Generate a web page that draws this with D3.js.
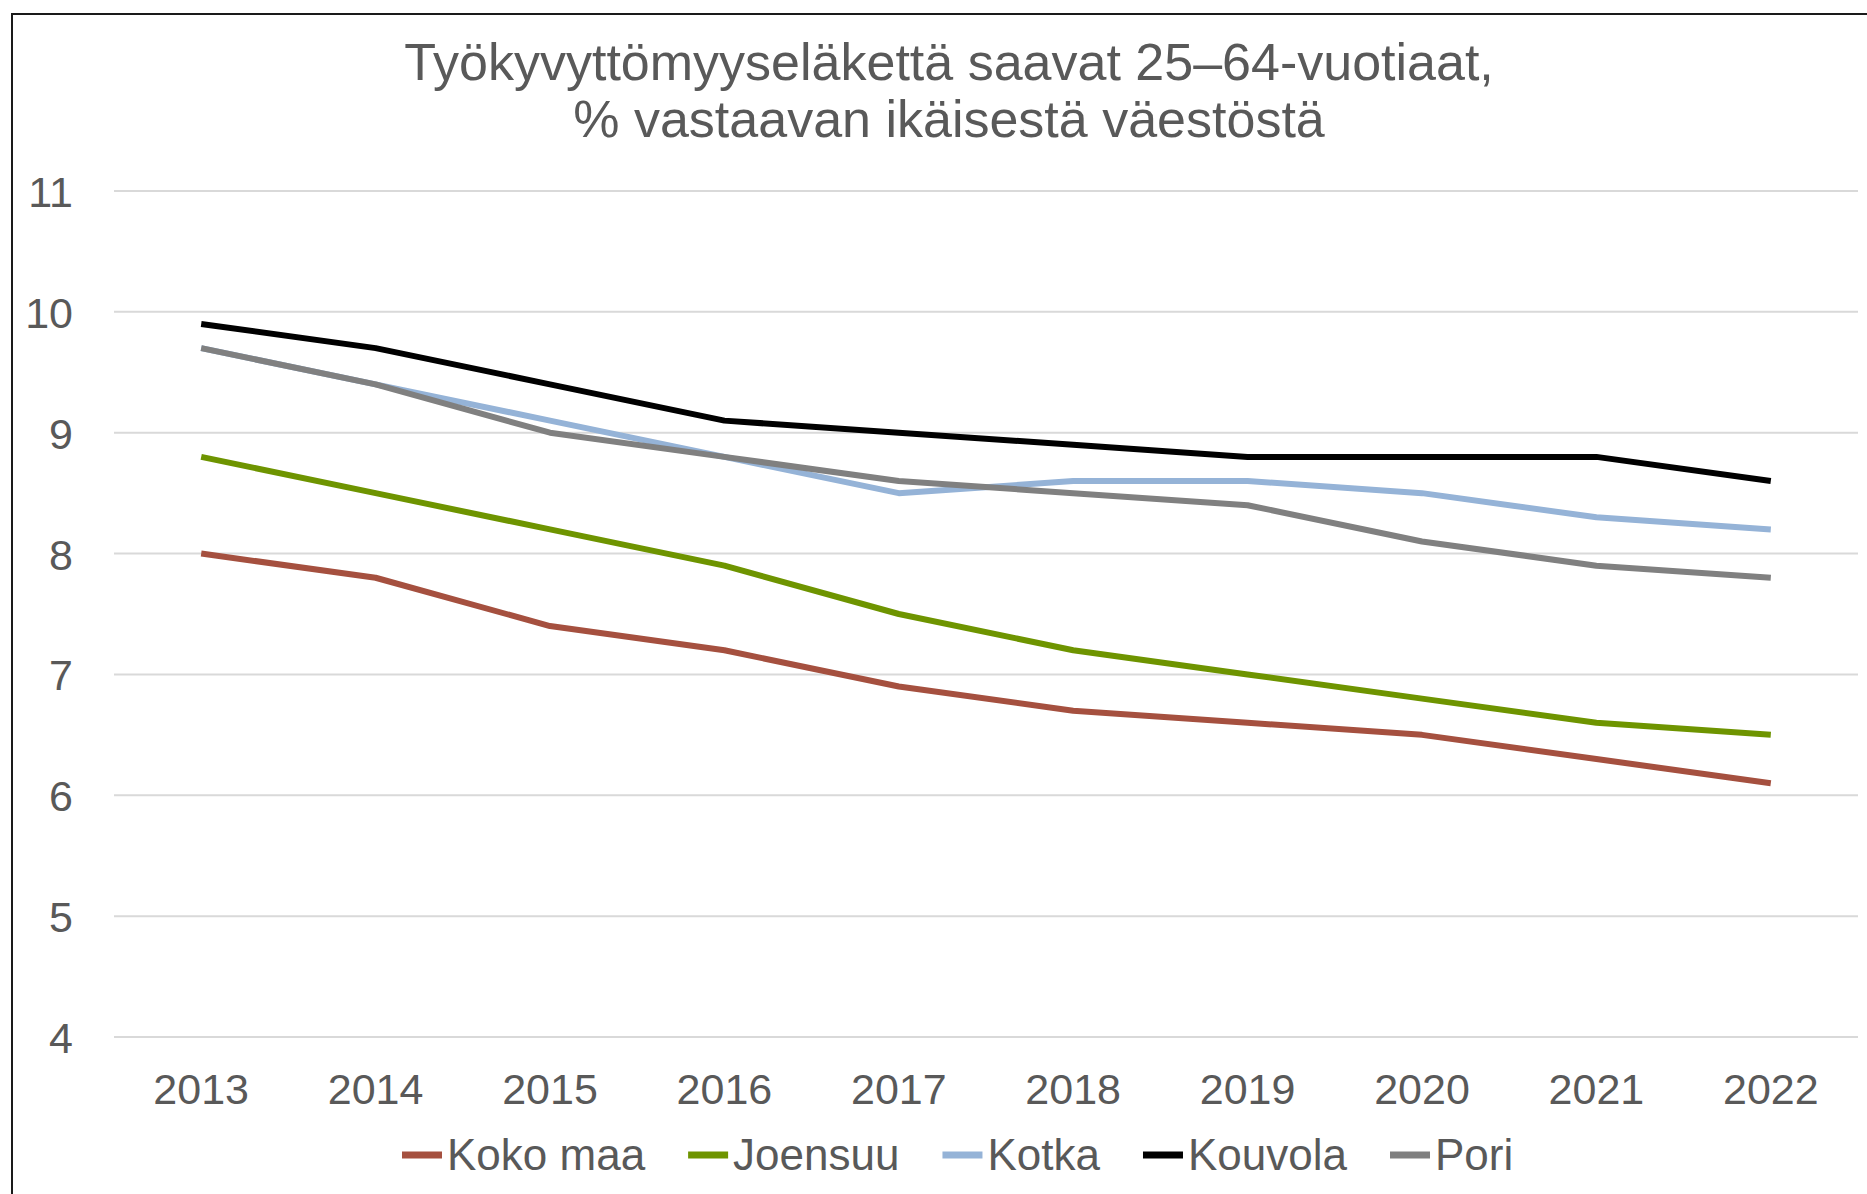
<!DOCTYPE html>
<html>
<head>
<meta charset="utf-8">
<script src="https://cdn.jsdelivr.net/npm/d3@7"></script>
<style>
  body { margin: 0; background: #fff; }
  text { font-family: "Liberation Sans", Arial, sans-serif; fill: #595959; }
</style>
</head>
<body>
<div id="chart"></div>
<script>
const WIDTH = 1867
const HEIGHT = 1194

const MARGIN = { TOP: 191, RIGHT: 9, BOTTOM: 157, LEFT: 114 }

const TITLE = ["Työkyvyttömyyseläkettä saavat 25–64-vuotiaat,", "% vastaavan ikäisestä väestöstä"]

const years = ["2013", "2014", "2015", "2016", "2017", "2018", "2019", "2020", "2021", "2022"]
const yTicks = [4, 5, 6, 7, 8, 9, 10, 11]

const kokoMaa = [8.0, 7.8, 7.4, 7.2, 6.9, 6.7, 6.6, 6.5, 6.3, 6.1]
const joensuu = [8.8, 8.5, 8.2, 7.9, 7.5, 7.2, 7.0, 6.8, 6.6, 6.5]
const kotka = [9.7, 9.4, 9.1, 8.8, 8.5, 8.6, 8.6, 8.5, 8.3, 8.2]
const kouvola = [9.9, 9.7, 9.4, 9.1, 9.0, 8.9, 8.8, 8.8, 8.8, 8.6]
const pori = [9.7, 9.4, 9.0, 8.8, 8.6, 8.5, 8.4, 8.1, 7.9, 7.8]

const seriesNames = ["Koko maa", "Joensuu", "Kotka", "Kouvola", "Pori"]
const seriesColors = ["#A5503F", "#6E9400", "#95B3D7", "#000000", "#808080"]

const series = [kokoMaa, joensuu, kotka, kouvola, pori].map((values, i) => ({
    name: seriesNames[i],
    color: seriesColors[i],
    values: values
}))

const svg = d3.select("#chart")
    .append("svg")
    .attr("width", WIDTH)
    .attr("height", HEIGHT)

// outer chart frame (runs off the right and bottom edge like the source)
svg.append("rect")
    .attr("x", 12)
    .attr("y", 14)
    .attr("width", WIDTH + 20)
    .attr("height", HEIGHT + 20)
    .attr("fill", "none")
    .attr("stroke", "#1a1a1a")
    .attr("stroke-width", 2)

svg.append("text")
    .attr("text-anchor", "middle")
    .attr("font-size", 52)
    .selectAll("tspan")
    .data(TITLE)
    .join("tspan")
    .attr("x", 949)
    .attr("y", (d, i) => 80 + i * 57)
    .text(d => d)

const x = d3.scaleBand()
    .domain(years)
    .range([MARGIN.LEFT, WIDTH - MARGIN.RIGHT])

const y = d3.scaleLinear()
    .domain([4, 11])
    .range([HEIGHT - MARGIN.BOTTOM, MARGIN.TOP])

// gridlines
svg.append("g")
    .selectAll("line")
    .data(yTicks)
    .join("line")
    .attr("x1", MARGIN.LEFT)
    .attr("x2", WIDTH - MARGIN.RIGHT)
    .attr("y1", d => y(d))
    .attr("y2", d => y(d))
    .attr("stroke", "#d9d9d9")
    .attr("stroke-width", 2)

// y axis labels
const yAxis = svg.append("g")
    .attr("transform", `translate(${MARGIN.LEFT - 41}, 0)`)
    .call(d3.axisLeft(y).tickValues(yTicks).tickFormat(d3.format("d")).tickSize(0).tickPadding(0))
yAxis.select(".domain").remove()
yAxis.selectAll("text")
    .attr("font-size", 43)
    .attr("fill", "#595959")
    .attr("dy", "0.36em")
yAxis.attr("font-family", null).attr("font-size", null)

// x axis labels
const xAxis = svg.append("g")
    .attr("transform", `translate(0, ${HEIGHT - MARGIN.BOTTOM})`)
    .call(d3.axisBottom(x).tickSize(0).tickPadding(0))
xAxis.select(".domain").remove()
xAxis.selectAll("text")
    .attr("font-size", 43)
    .attr("fill", "#595959")
    .attr("dy", null)
    .attr("y", 67)
xAxis.attr("font-family", null).attr("font-size", null)

const line = d3.line()
    .x((d, i) => x(years[i]) + x.bandwidth() / 2)
    .y(d => y(d))

svg.append("g")
    .selectAll("path")
    .data(series)
    .join("path")
    .attr("d", d => line(d.values))
    .attr("fill", "none")
    .attr("stroke", d => d.color)
    .attr("stroke-width", 6)
    .attr("stroke-linejoin", "round")
    .attr("stroke-linecap", "butt")

// legend
const legend = svg.append("g")
    .attr("transform", `translate(0, ${1155})`)

const items = legend.selectAll("g")
    .data(series)
    .join("g")

items.append("rect")
    .attr("x", 0)
    .attr("y", -3.5)
    .attr("width", 40)
    .attr("height", 7)
    .attr("fill", d => d.color)

items.append("text")
    .attr("x", 45)
    .attr("y", 15)
    .attr("font-size", 44)
    .text(d => d.name)

let offset = 402
items.each(function () {
    const g = d3.select(this)
    g.attr("transform", `translate(${offset}, 0)`)
    const w = g.select("text").node().getComputedTextLength()
    offset += 45 + w + 43
})
</script>
</body>
</html>
